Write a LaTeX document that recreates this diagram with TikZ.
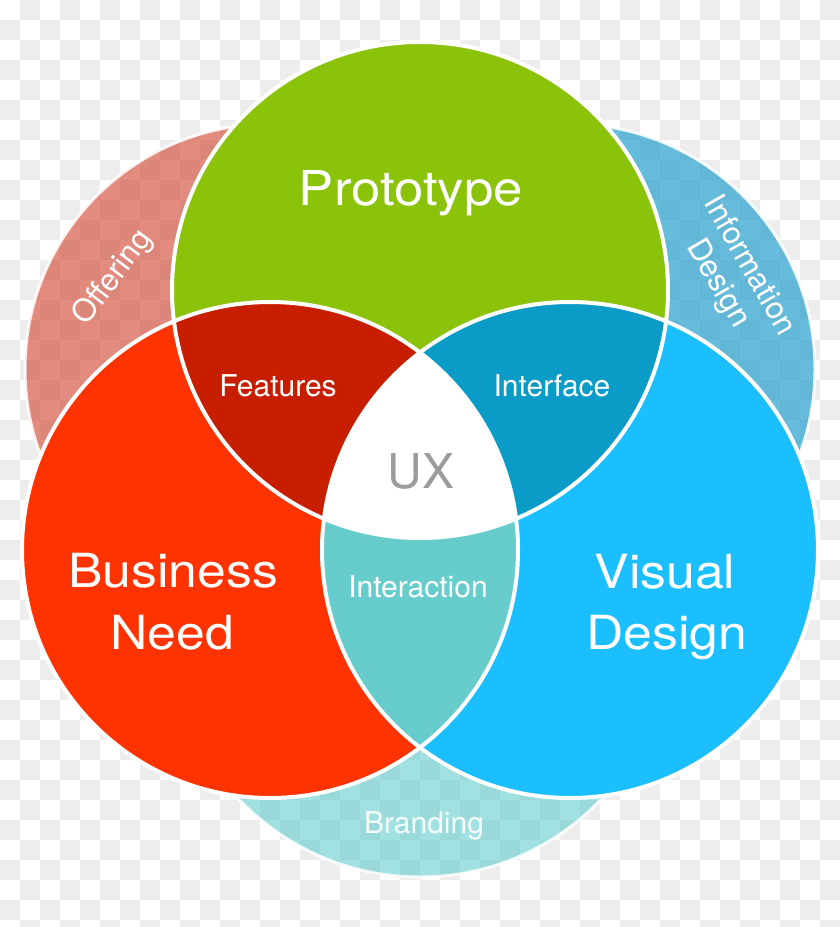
\documentclass[tikz,border=0pt]{standalone}
\usepackage{fontspec}
\setmainfont{TeX Gyre Heros}
\newfontfamily\bigfont[FakeStretch=1.1]{TeX Gyre Heros}
\definecolor{protogreen}{RGB}{139,195,10}
\definecolor{bizred}{RGB}{255,51,0}
\definecolor{visblue}{RGB}{27,191,255}
\definecolor{featred}{RGB}{200,30,0}
\definecolor{ifblue}{RGB}{10,155,199}
\definecolor{interteal}{RGB}{102,204,204}
\definecolor{offsalmon}{RGB}{214,90,72}
\definecolor{infoblue}{RGB}{40,160,205}
\definecolor{brandteal}{RGB}{100,205,205}
\definecolor{checkgray}{RGB}{237,237,237}
\definecolor{uxgray}{RGB}{155,155,155}
\begin{document}
\begin{tikzpicture}[x=1pt,y=-1pt,
  bigtxt/.style={text=white, font=\bigfont\fontsize{47}{52}\selectfont, anchor=base, inner sep=0pt},
  midtxt/.style={text=white, font=\fontsize{30}{36}\selectfont, anchor=base, inner sep=0pt},
  sidetxt/.style={text=white, font=\fontsize{31}{36}\selectfont, align=center, inner sep=0pt},
  ring/.style={draw=white, line width=4pt},
  halo/.style={draw=white, draw opacity=0.85, line width=3pt},
]
\useasboundingbox (0,0) rectangle (840,927);
% checkerboard background
\fill[white] (0,0) rectangle (840,927);
\foreach \i in {0,...,41}{\foreach \j in {0,...,46}{
  \pgfmathtruncatemacro\k{\i+\j}
  \ifodd\k \fill[checkgray] (20*\i,20*\j) rectangle ++(20,20); \fi}}
% translucent outer circles
\fill[offsalmon, fill opacity=0.7] (270,369) circle[radius=245pt];
\fill[infoblue, fill opacity=0.7] (570,369) circle[radius=245pt];
\fill[brandteal, fill opacity=0.6] (420,627) circle[radius=250pt];
\draw[halo] (270,369) circle[radius=245pt];
\draw[halo] (570,369) circle[radius=245pt];
\draw[halo] (420,627) circle[radius=250pt];
% main circles
\fill[protogreen] (420,290) circle[radius=248pt];
\fill[bizred] (270,550) circle[radius=248pt];
\fill[visblue] (570,550) circle[radius=248pt];
\begin{scope}
  \clip (270,550) circle[radius=248pt];
  \fill[featred] (420,290) circle[radius=248pt];
\end{scope}
\begin{scope}
  \clip (570,550) circle[radius=248pt];
  \fill[ifblue] (420,290) circle[radius=248pt];
\end{scope}
\begin{scope}
  \clip (270,550) circle[radius=248pt];
  \fill[interteal] (570,550) circle[radius=248pt];
\end{scope}
\begin{scope}
  \clip (270,550) circle[radius=248pt];
  \clip (570,550) circle[radius=248pt];
  \fill[white] (420,290) circle[radius=248pt];
\end{scope}
\draw[ring] (420,290) circle[radius=248pt];
\draw[ring] (270,550) circle[radius=248pt];
\draw[ring] (570,550) circle[radius=248pt];
% labels
\node[bigtxt, font=\bigfont\fontsize{48}{52}\selectfont] (proto) at (411,205) {Prototype};
\node[bigtxt] (biz1) at (173,587) {Business};
\node[bigtxt] (biz2) at (172,649) {Need};
\node[bigtxt] (vis1) at (665,588) {Visual};
\node[bigtxt] (vis2) at (667,649) {Design};
\node[midtxt] (feat) at (278,396) {Features};
\node[midtxt] (iface) at (552,396) {Interface};
\node[midtxt] (inter) at (418,597) {Interaction};
\node[text=uxgray, font=\fontsize{48}{52}\selectfont, anchor=base, inner sep=0pt] (ux) at (421,488) {UX};
\node[midtxt, text opacity=0.9] (brand) at (424,833) {Branding};
\node[sidetxt, rotate=53] (offer) at (113,278) {Offering};
\node[sidetxt, rotate=-60] (info) at (733,275) {Information\\Design};
\end{tikzpicture}
\end{document}
